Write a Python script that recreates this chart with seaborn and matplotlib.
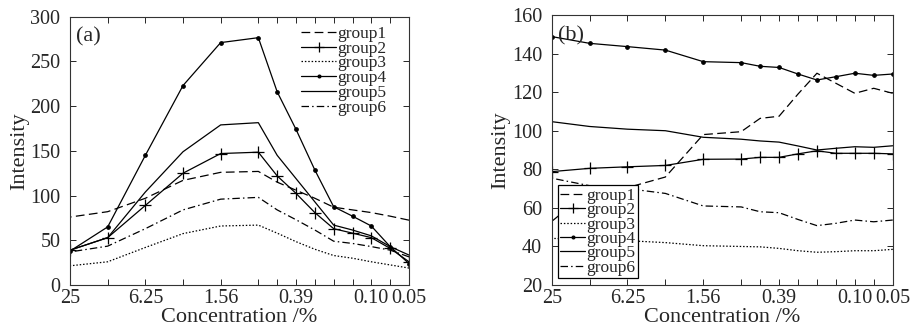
import matplotlib
matplotlib.use("Agg")
import matplotlib.pyplot as plt
from matplotlib.ticker import NullFormatter
import seaborn as sns
import pandas as pd

sns.set_style("ticks")
plt.rcParams["font.family"] = ["Liberation Serif", "DejaVu Serif"]
plt.rcParams["xtick.direction"] = "in"
plt.rcParams["ytick.direction"] = "in"

# concentration series (serial dilution, % )
conc = [25, 12.5, 6.25, 3.125, 1.5625, 0.78125, 0.5524, 0.390625,
        0.2762, 0.1953, 0.1381, 0.0977, 0.0691, 0.0488]
tick_conc = [25, 6.25, 1.5625, 0.390625, 0.0977, 0.0488]
tick_labels = ["25", "6.25", "1.56", "0.39", "0.10", "0.05"]
groups = ["group1", "group2", "group3", "group4", "group5", "group6"]

# panel (a)
a_g1 = [76, 82, 97, 117, 126, 127, 115, 106, 97, 87, 84, 81, 77, 72.5]
a_g2 = [39, 53, 89, 125, 147, 148.5, 122, 102.5, 81, 63, 58, 53, 41, 26]
a_g3 = [21.5, 26, 42, 57.5, 66, 67, 58, 48.5, 40, 33, 30, 26, 22.5, 19]
a_g4 = [38, 65, 145, 223, 271, 276.5, 216, 174, 128.6, 87.5, 77, 66, 43, 24]
a_g5 = [39, 53, 104, 149, 179, 181.5, 145, 119, 93, 67, 61.5, 55, 43, 33.5]
a_g6 = [37, 43.5, 63, 84, 96, 98, 84, 73, 61.5, 49, 46.5, 43, 39, 31.5]

# panel (b)
b_g1 = [53, 69, 70.5, 76, 98, 99.5, 106.4, 107.5, 119, 129.8, 124.6, 119.4, 122, 119.4]
b_g2 = [78.8, 80.5, 81.3, 82, 85.2, 85.3, 86.2, 86.2, 88, 89.6, 88.3, 88.3, 88.3, 88]
b_g3 = [44.2, 43.5, 43, 42, 40.4, 40, 39.8, 39, 37.8, 37, 37.3, 37.8, 37.8, 38.5]
b_g4 = [148.8, 145.3, 143.6, 141.8, 135.8, 135.3, 133.4, 132.8, 129.4, 126.3, 128, 129.8, 128.7, 129.4]
b_g5 = [104.7, 102.2, 100.8, 100, 96.6, 95.6, 94.7, 94.1, 92.1, 90, 90.9, 91.7, 91.4, 92.2]
b_g6 = [75.4, 71.5, 70, 67.5, 61, 60.5, 58, 57.5, 54, 50.8, 52, 53.7, 52.8, 53.7]

styles = {
    "group1": dict(ls=(0, (7, 3.5)), marker=None),
    "group2": dict(ls="-", marker="+"),
    "group3": dict(ls=(0, (1.2, 1.5)), marker=None),
    "group4": dict(ls="-", marker="."),
    "group5": dict(ls="-", marker=None),
    "group6": dict(ls=(0, (6, 2.5, 1.2, 2.5)), marker=None),
}


def panel(ax, series, ylim, yticks, tag):
    ax.set_xscale("log", base=2)
    handles = []
    for name, vals in zip(groups, series):
        st = styles[name]
        df = pd.DataFrame({"conc": conc, "val": vals})
        n0 = len(ax.lines)
        sns.lineplot(data=df, x="conc", y="val", ax=ax, color="black",
                     linewidth=0.9, linestyle=st["ls"], marker=st["marker"],
                     markersize=9 if st["marker"] == "+" else 5,
                     markeredgewidth=0.9, markeredgecolor="black",
                     markerfacecolor="black", legend=False)
        handles.append(ax.lines[n0])
    ax.set_xlim(25, 0.0488)
    ax.set_ylim(*ylim)
    ax.set_yticks(yticks)
    ax.set_xticks(conc, minor=True)
    ax.xaxis.set_minor_formatter(NullFormatter())
    ax.set_xticks(tick_conc)
    ax.set_xticklabels(tick_labels)
    ax.tick_params(which="both", top=True, right=True, length=4, width=0.7,
                   labelsize=14.5)
    ax.tick_params(axis="x", pad=3)
    ax.tick_params(axis="y", pad=7)
    ax.set_xlabel("Concentration /%", fontsize=16, labelpad=0)
    ax.set_ylabel("Intensity", fontsize=16, labelpad=1)
    for s in ax.spines.values():
        s.set_linewidth(0.8)
        s.set_color("#333333")
    ax.text(0.018, 0.96, tag, transform=ax.transAxes, fontsize=16,
            ha="left", va="top")
    return handles


fig = plt.figure(figsize=(9.13, 3.33), dpi=100)
ax1 = fig.add_axes([0.0767, 0.144, 0.3713, 0.806])
ax2 = fig.add_axes([0.6043, 0.144, 0.3735, 0.811])

h1 = panel(ax1, [a_g1, a_g2, a_g3, a_g4, a_g5, a_g6], (0, 300), range(0, 301, 50), "(a)")
h2 = panel(ax2, [b_g1, b_g2, b_g3, b_g4, b_g5, b_g6], (20, 160), range(20, 161, 20), "(b)")

ax1.legend(h1, groups, loc="upper right", bbox_to_anchor=(0.965, 1.005), frameon=False,
           fontsize=12.5, handlelength=2.0, handletextpad=0.1, labelspacing=-0.08,
           borderaxespad=0.2, markerscale=0.8)
leg = ax2.legend(h2, groups, loc="lower left", bbox_to_anchor=(0.012, 0.018), frameon=True,
                 fontsize=12.5, handlelength=1.45, handletextpad=0.05, labelspacing=-0.1,
                 borderaxespad=0.1, fancybox=False, edgecolor="black", framealpha=1,
                 borderpad=0.15, markerscale=0.8)
leg.get_frame().set_linewidth(0.9)

fig.savefig("out.png", dpi=100)
